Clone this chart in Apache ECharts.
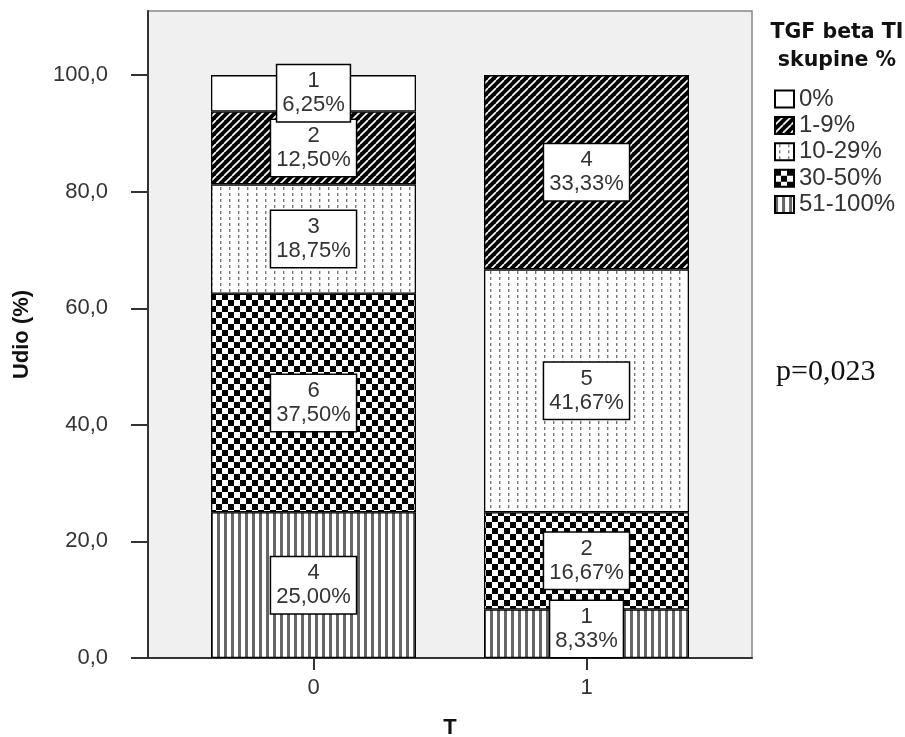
<!DOCTYPE html>
<html>
<head>
<meta charset="utf-8">
<script src="https://cdn.jsdelivr.net/npm/echarts@6/dist/echarts.min.js"></script>
<style>
html,body{margin:0;padding:0;background:#fff;}
#chart{width:905px;height:737px;}
</style>
</head>
<body>
<div id="chart"></div>
<script>
// ---- data ----
const categoryLabels = ['0', '1'];
const seriesNames = ['51-100%', '30-50%', '10-29%', '1-9%', '0%']; // bottom -> top
const legendOrder = ['0%', '1-9%', '10-29%', '30-50%', '51-100%'];
const count51_100 = [4, 1];
const pct51_100 = [25.00, 8.33];
const count30_50 = [6, 2];
const pct30_50 = [37.50, 16.67];
const count10_29 = [3, 5];
const pct10_29 = [18.75, 41.67];
const count1_9 = [2, 4];
const pct1_9 = [12.50, 33.33];
const count0 = [1, 0];
const pct0 = [6.25, 0];
const yTicks = [0, 20, 40, 60, 80, 100];
const yTickLabels = ['0,0', '20,0', '40,0', '60,0', '80,0', '100,0'];
const pText = 'p=0,023';
const legendTitle = 'TGF beta TI\nskupine %';
const xTitle = 'T';
const yTitle = 'Udio (%)';

// ---- layout / style ----
const Y_MAX = 111;
const GRID_TOP = 11, GRID_BOTTOM = 79;
const PX_PER_UNIT = (737 - GRID_TOP - GRID_BOTTOM) / Y_MAX;
const LABEL_BOX_H = 56;

function mk(w, h, draw) {
  const c = document.createElement('canvas');
  c.width = w; c.height = h;
  const g = c.getContext('2d');
  draw(g, w, h);
  return { image: c, repeat: 'repeat' };
}
const patWhite = '#ffffff';
const patDiag = mk(8, 8, (g, w, h) => {
  g.fillStyle = '#000'; g.fillRect(0, 0, w, h);
  g.strokeStyle = '#fff'; g.lineWidth = 1.7;
  for (const o of [-w, 0, w]) {
    g.beginPath(); g.moveTo(o, h); g.lineTo(o + w, 0); g.stroke();
  }
});
const patDots = mk(9, 6, (g, w, h) => {
  g.fillStyle = '#fff'; g.fillRect(0, 0, w, h);
  g.fillStyle = '#777'; g.fillRect(4, 1, 1.4, 3);
});
const patChecker = mk(12, 12, (g, w, h) => {
  g.fillStyle = '#fff'; g.fillRect(0, 0, w, h);
  g.fillStyle = '#000'; g.fillRect(0, 0, 6, 6); g.fillRect(6, 6, 6, 6);
});
const patVert = mk(7, 4, (g, w, h) => {
  g.fillStyle = '#fff'; g.fillRect(0, 0, w, h);
  g.fillStyle = '#666'; g.fillRect(0, 0, 3, h);
});

const seriesCounts = [count51_100, count30_50, count10_29, count1_9, count0];
const seriesPcts = [pct51_100, pct30_50, pct10_29, pct1_9, pct0];
const seriesFills = [patVert, patChecker, patDots, patDiag, patWhite];

function fmtPct(v) { return v.toFixed(2).replace('.', ',') + '%'; }

const series = seriesNames.map((name, si) => ({
  name: name,
  type: 'bar',
  stack: 'total',
  xAxisIndex: 1,
  yAxisIndex: 1,
  barWidth: 205,
  itemStyle: { color: seriesFills[si], borderColor: '#000', borderWidth: 1.3 },
  label: {
    show: true,
    position: 'inside',
    fontFamily: 'Liberation Sans',
    fontSize: 22,
    lineHeight: 24,
    color: '#333',
    backgroundColor: '#fff',
    borderColor: '#000',
    borderWidth: 1.5,
    padding: [4, 5, 4, 5],
    formatter: (p) => seriesCounts[si][p.dataIndex] + '\n' + fmtPct(seriesPcts[si][p.dataIndex])
  },
  emphasis: { disabled: true },
  data: seriesPcts[si].map((v) => {
    if (!(v > 0)) return '-';
    const segH = v * PX_PER_UNIT;
    // keep the label box of the bottom segment inside the bar
    const off = (si === 0 && segH < LABEL_BOX_H) ? -((LABEL_BOX_H - segH) / 2 + 1) : 0;
    return off ? { value: v, label: { offset: [0, off] } } : v;
  })
}));

const fontAxis = { fontFamily: 'Liberation Sans', fontSize: 22, color: '#333' };
const fontTitle = { fontFamily: 'Liberation Sans', fontWeight: 'bold', fontSize: 22, color: '#111' };

const chart = echarts.init(document.getElementById('chart'), null, { renderer: 'canvas' });
chart.setOption({
  animation: false,
  backgroundColor: '#fff',
  title: [
    {
      text: legendTitle, left: 832, top: 14, textAlign: 'center',
      textStyle: { fontFamily: 'DejaVu Sans', fontWeight: 'bold', fontSize: 20.5, lineHeight: 28, color: '#111' }
    },
    {
      text: pText, left: 771, top: 352,
      textStyle: { fontFamily: 'Liberation Serif', fontWeight: 'normal', fontSize: 30, color: '#111' }
    }
  ],
  legend: {
    data: legendOrder,
    orient: 'vertical',
    left: 769, top: 82,
    itemWidth: 19, itemHeight: 17, itemGap: 2.4,
    icon: 'rect',
    textStyle: { fontFamily: 'Liberation Sans', fontSize: 24, color: '#333' },
    selectedMode: false
  },
  grid: [
    {
      left: 148, top: GRID_TOP, right: 153, bottom: GRID_BOTTOM, outerBoundsMode: 'none',
      show: true, backgroundColor: '#f0f0f0', borderColor: '#888', borderWidth: 1.5
    },
    {
      left: 177, top: GRID_TOP, right: 182, bottom: GRID_BOTTOM, outerBoundsMode: 'none', show: false
    }
  ],
  xAxis: [
    {
      gridIndex: 0, type: 'value', min: 0, max: 1,
      axisLine: { show: true, lineStyle: { color: '#333', width: 2 } },
      axisTick: { show: false }, axisLabel: { show: false }, splitLine: { show: false }
    },
    {
      gridIndex: 1, type: 'category', data: categoryLabels,
      name: xTitle, nameLocation: 'middle', nameGap: 59, nameTextStyle: fontTitle,
      axisLine: { show: false },
      axisTick: { show: true, alignWithLabel: true, length: 12, lineStyle: { color: '#333', width: 2 } },
      axisLabel: Object.assign({ margin: 19 }, fontAxis),
      splitLine: { show: false }
    }
  ],
  yAxis: [
    {
      gridIndex: 0, type: 'value', min: 0, max: Y_MAX,
      name: yTitle, nameLocation: 'middle', nameGap: 115, nameRotate: 90, nameTextStyle: fontTitle,
      axisLine: { show: true, onZero: false, lineStyle: { color: '#333', width: 2 } },
      axisTick: { show: true, length: 17, lineStyle: { color: '#333', width: 2 }, customValues: yTicks },
      axisLabel: Object.assign({
        customValues: yTicks, margin: 40,
        formatter: (v) => yTickLabels[yTicks.indexOf(v)]
      }, fontAxis),
      splitLine: { show: false }
    },
    {
      gridIndex: 1, type: 'value', min: 0, max: Y_MAX, show: false
    }
  ],
  series: series
});
</script>
</body>
</html>
